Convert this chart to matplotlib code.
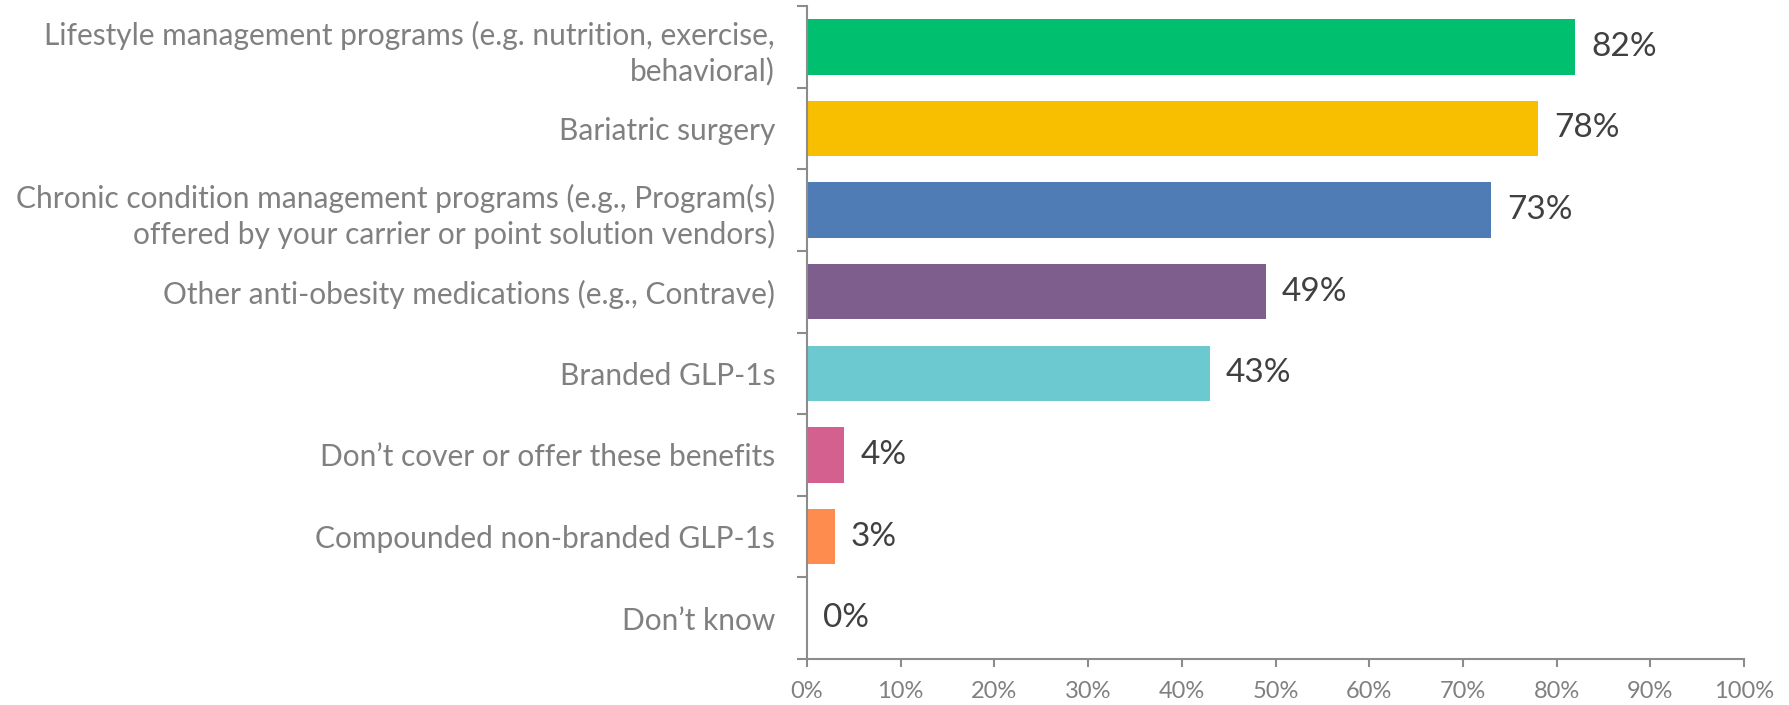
import matplotlib
matplotlib.use("Agg")
import matplotlib.pyplot as plt
from matplotlib.ticker import MultipleLocator, FixedLocator

categories = [
    "Lifestyle management programs (e.g. nutrition, exercise,\nbehavioral)",
    "Bariatric surgery",
    "Chronic condition management programs (e.g., Program(s)\noffered by your carrier or point solution vendors)",
    "Other anti-obesity medications (e.g., Contrave)",
    "Branded GLP-1s",
    "Don\u2019t cover or offer these benefits",
    "Compounded non-branded GLP-1s",
    "Don\u2019t know",
]
values = [82, 78, 73, 49, 43, 4, 3, 0]
colors = ["#00BF6F", "#F8BE00", "#4F7CB4", "#7D5E8D", "#6CC9CF",
          "#D3608E", "#FF8C4F", "#A0A0A0"]

plt.rcParams['font.family'] = ['Lato', 'DejaVu Sans']

W, H = 1789, 705
fig = plt.figure(figsize=(W / 100, H / 100), dpi=100)
ax = fig.add_axes([807 / W, 1 - 659 / H, (1744 - 807) / W, (659 - 6) / H])

ypos = list(range(len(categories)))
ax.barh(ypos, values, height=0.68, color=colors)
ax.set_ylim(len(categories) - 0.5, -0.5)
ax.set_xlim(0, 100)

for y, v in zip(ypos, values):
    ax.text(v + 1.7, y, f"{v}%", va="center", ha="left",
            fontsize=24, color="#404040")

axis_col = "#8C8C8C"
for s in ["top", "right"]:
    ax.spines[s].set_visible(False)
for s in ["left", "bottom"]:
    ax.spines[s].set_color(axis_col)
    ax.spines[s].set_linewidth(1.5)

ax.xaxis.set_major_locator(MultipleLocator(10))
ax.set_xticklabels([f"{int(t)}%" for t in ax.get_xticks()])
ax.tick_params(axis="x", colors=axis_col, labelcolor="#808080", labelsize=17,
               length=6, width=1.5, pad=10)

# category labels on centers, ticks on boundaries
ax.set_yticks(ypos)
ax.set_yticklabels(categories, fontsize=21.5, color="#808080", ha="right",
                   multialignment="right", linespacing=1.3)
ax.tick_params(axis="y", length=0, pad=23)
ax.yaxis.set_minor_locator(FixedLocator([i - 0.5 for i in range(len(categories) + 1)]))
ax.tick_params(axis="y", which="minor", length=7, width=1.5, colors=axis_col)

fig.savefig("out.png", dpi=100)
